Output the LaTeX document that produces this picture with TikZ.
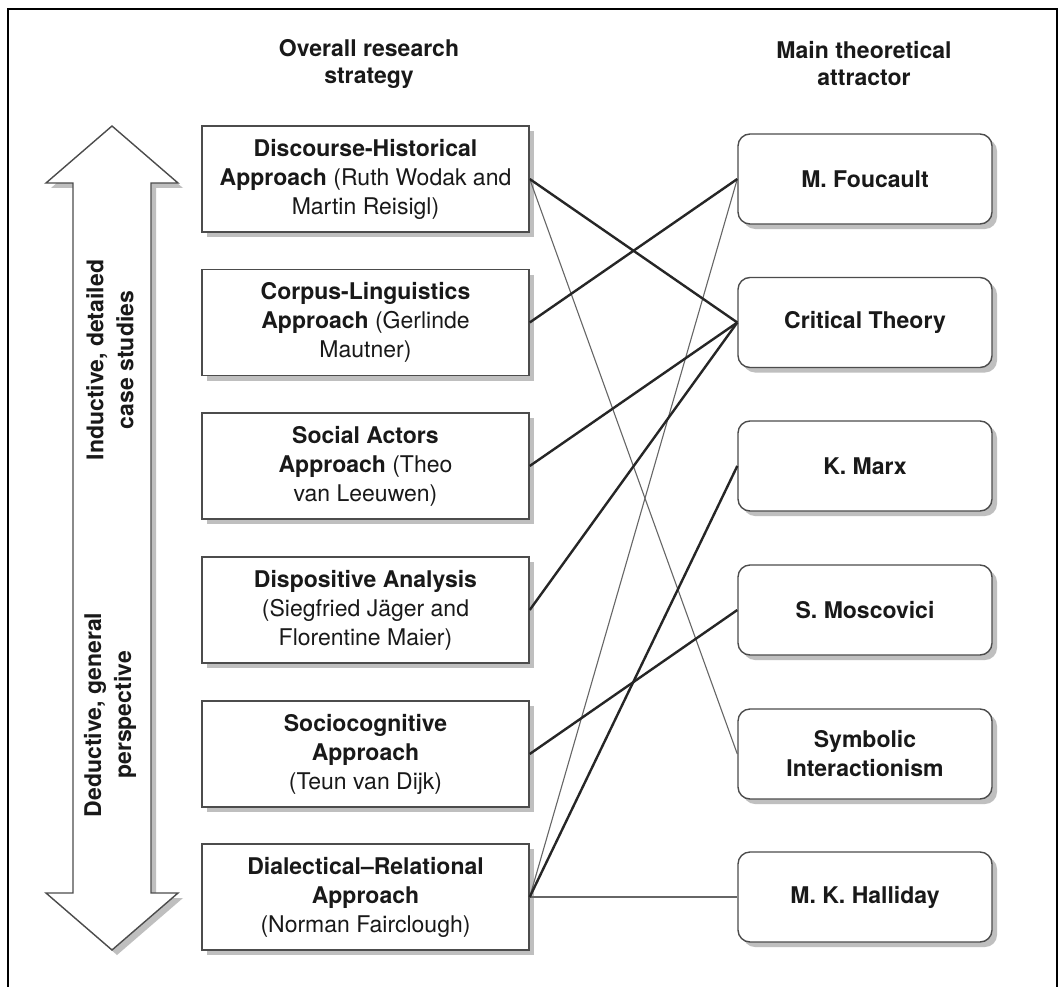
\documentclass[tikz,border=0pt]{standalone}
\usepackage{fontspec}
\setmainfont{TeX Gyre Heros}
\usetikzlibrary{shadows}
\begin{document}
\begin{tikzpicture}[x=1pt,y=-1pt,
  shad/.style={drop shadow={shadow xshift=5pt, shadow yshift=-5pt, fill=black!25, opacity=1}},
  lbox/.style={draw=black!70, line width=1.4pt, fill=white, minimum width=327pt,
    minimum height=106pt, inner sep=0pt, align=center,
    font=\fontsize{23}{29}\selectfont, text=black!90, shad},
  rbox/.style={draw=black!70, line width=1.4pt, fill=white, rounded corners=12pt,
    minimum width=254pt, minimum height=90pt, inner sep=0pt, align=center,
    font=\fontsize{23}{29}\selectfont\bfseries, text=black!90, shad},
  head/.style={align=center, font=\fontsize{23}{27}\selectfont\bfseries, text=black!90},
  sidetext/.style={align=center, rotate=90, font=\fontsize{23}{30}\selectfont\bfseries, text=black!90},
  strong/.style={draw=black!85, line width=2.4pt},
  weak/.style={draw=black!60, line width=1.1pt},
]
\useasboundingbox (0,0) rectangle (1062,987);
\fill[white] (0,0) rectangle (1062,987);
% frame
\draw[line width=2pt, black] (8,1000) -- (8,9) -- (1057,9) -- (1057,1000);

% headers
\node[head] (h1) at (369,64) {Overall research\\strategy};
\node[head] (h2) at (864,64) {Main theoretical\\attractor};

% double arrow
\filldraw[fill=white, draw=black!70, line width=1.4pt, shad]
  (112,126) -- (178,183) -- (151,183) -- (151,893) -- (178,893) -- (112,950)
  -- (46,893) -- (73,893) -- (73,183) -- (46,183) -- cycle;
\node[sidetext] (ind) at (110,360) {Inductive, detailed\\case studies};
\node[sidetext] (ded) at (110,715) {Deductive, general\\perspective};

% left boxes
\node[lbox] (l1) at (365.5,179) {\textbf{Discourse-Historical}\\\textbf{Approach} (Ruth Wodak and\\Martin Reisigl)};
\node[lbox] (l2) at (365.5,322.5) {\textbf{Corpus-Linguistics}\\\textbf{Approach} (Gerlinde\\Mautner)};
\node[lbox] (l3) at (365.5,466) {\textbf{Social Actors}\\\textbf{Approach} (Theo\\van Leeuwen)};
\node[lbox] (l4) at (365.5,610) {\textbf{Dispositive Analysis}\\(Siegfried Jäger and\\Florentine Maier)};
\node[lbox] (l5) at (365.5,754) {\textbf{Sociocognitive}\\\textbf{Approach}\\(Teun van Dijk)};
\node[lbox] (l6) at (365.5,897) {\textbf{Dialectical–Relational}\\\textbf{Approach}\\(Norman Fairclough)};

% right boxes
\node[rbox] (r1) at (865,179) {M. Foucault};
\node[rbox] (r2) at (865,322.5) {Critical Theory};
\node[rbox] (r3) at (865,466) {K. Marx};
\node[rbox] (r4) at (865,610) {S. Moscovici};
\node[rbox] (r5) at (865,754) {Symbolic\\Interactionism};
\node[rbox] (r6) at (865,897) {M. K. Halliday};

% connectors
\draw[weak] (l1.east) -- (r5.west);
\draw[weak] (l6.east) -- (r1.west);
\draw[weak] (l6.east) -- (r6.west);
\draw[strong] (l1.east) -- (r2.west);
\draw[strong] (l2.east) -- (r1.west);
\draw[strong] (l3.east) -- (r2.west);
\draw[strong] (l4.east) -- (r2.west);
\draw[strong] (l5.east) -- (r4.west);
\draw[strong] (l6.east) -- (r3.west);
\end{tikzpicture}
\end{document}
